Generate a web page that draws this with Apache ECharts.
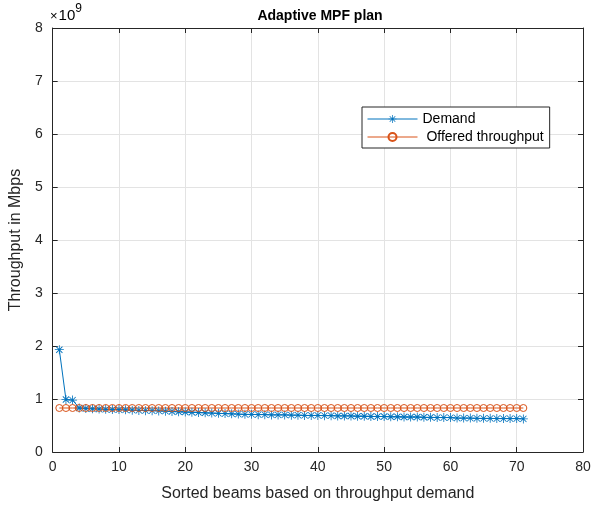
<!DOCTYPE html>
<html>
<head>
<meta charset="utf-8">
<script src="https://cdn.jsdelivr.net/npm/echarts@6/dist/echarts.min.js"></script>
<style>
  html, body { margin: 0; padding: 0; background: #fff; }
  #chart { width: 595px; height: 510px; }
</style>
</head>
<body>
<div id="chart"></div>
<script>
// beam index (sorted by demand)
const beams = []
for (let i = 1; i <= 71; i++) beams.push(i)

// throughput, in units of 1e9
const demand = [
  1.93, 0.99, 0.98, 0.83, 0.82, 0.815, 0.81, 0.805, 0.80, 0.80,
  0.795, 0.79, 0.785, 0.78, 0.78, 0.775, 0.77, 0.765, 0.76, 0.755,
  0.75, 0.745, 0.74, 0.735, 0.73, 0.725, 0.72, 0.715, 0.71, 0.71,
  0.705, 0.705, 0.70, 0.70, 0.70, 0.695, 0.695, 0.69, 0.69, 0.69,
  0.685, 0.685, 0.68, 0.68, 0.68, 0.675, 0.675, 0.67, 0.67, 0.67,
  0.665, 0.665, 0.66, 0.66, 0.66, 0.655, 0.655, 0.65, 0.65, 0.65,
  0.64, 0.64, 0.64, 0.635, 0.635, 0.635, 0.63, 0.63, 0.63, 0.63,
  0.625
]
const offered = [
  0.83, 0.83, 0.83, 0.83, 0.83, 0.83, 0.83, 0.83, 0.83, 0.83,
  0.83, 0.83, 0.83, 0.83, 0.83, 0.83, 0.83, 0.83, 0.83, 0.83,
  0.83, 0.83, 0.83, 0.83, 0.83, 0.83, 0.83, 0.83, 0.83, 0.83,
  0.83, 0.83, 0.83, 0.83, 0.83, 0.83, 0.83, 0.83, 0.83, 0.83,
  0.83, 0.83, 0.83, 0.83, 0.83, 0.83, 0.83, 0.83, 0.83, 0.83,
  0.83, 0.83, 0.83, 0.83, 0.83, 0.83, 0.83, 0.83, 0.83, 0.83,
  0.83, 0.83, 0.83, 0.83, 0.83, 0.83, 0.83, 0.83, 0.83, 0.83,
  0.83
]

const blue = '#0072BD'
const orange = '#D95319'
const font = 'Liberation Sans, Arial, sans-serif'
// asterisk marker, built from thin bars
const star = 'path://M4.55 0h0.9v10h-0.9zM0 4.55h10v0.9h-10zM1.2 1.85L1.85 1.2L8.8 8.15L8.15 8.8zM8.15 1.2L8.8 1.85L1.85 8.8L1.2 8.15z'

const chart = echarts.init(document.getElementById('chart'))

// matlab style box: ticks point into the plot
function axLine() { return { show: true, onZero: false, lineStyle: { color: '#262626', width: 1 } } }
function axTick() { return { show: true, inside: true, length: 5, lineStyle: { color: '#262626' } } }

chart.setOption({
  animation: false,
  backgroundColor: '#fff',
  title: {
    text: 'Adaptive MPF plan',
    left: 315, top: 4, textAlign: 'center',
    textStyle: { fontFamily: font, fontSize: 14, fontWeight: 'bold', color: '#000' }
  },
  grid: { left: 48, right: 12, top: 28, bottom: 58, containLabel: false },
  legend: {
    orient: 'vertical',
    left: 362, top: 107,
    backgroundColor: '#fff',
    borderColor: '#262626', borderWidth: 1, borderRadius: 0,
    padding: [5, 6, 4, 5],
    itemGap: 4, itemWidth: 50, itemHeight: 10,
    lineStyle: { width: 1 },
    textStyle: { fontFamily: font, fontSize: 14, color: '#000' },
    formatter: name => name === 'Demand' ? name : ' ' + name,
    data: ['Demand', 'Offered throughput']
  },
  xAxis: [{
    type: 'value', min: 0, max: 80, interval: 10,
    name: 'Sorted beams based on throughput demand',
    nameLocation: 'middle', nameGap: 34,
    nameTextStyle: { fontFamily: font, fontSize: 16, color: '#262626' },
    axisLine: axLine(), axisTick: axTick(),
    axisLabel: { fontFamily: font, fontSize: 14, color: '#262626', margin: 8 },
    splitLine: { show: true, lineStyle: { color: '#e3e3e3' } }
  }, {
    type: 'value', min: 0, max: 80, interval: 10, position: 'top',
    axisLine: axLine(), axisTick: axTick(), axisLabel: { show: false },
    splitLine: { show: false }
  }],
  yAxis: [{
    type: 'value', min: 0, max: 8, interval: 1,
    name: 'Throughput in Mbps',
    nameLocation: 'middle', nameGap: 28,
    nameTextStyle: { fontFamily: font, fontSize: 16, color: '#262626' },
    axisLine: axLine(), axisTick: axTick(),
    axisLabel: { fontFamily: font, fontSize: 14, color: '#262626', margin: 10 },
    splitLine: { show: true, lineStyle: { color: '#e3e3e3' } }
  }, {
    type: 'value', min: 0, max: 8, interval: 1, position: 'right',
    axisLine: axLine(), axisTick: axTick(), axisLabel: { show: false },
    splitLine: { show: false }
  }],
  graphic: [{
    type: 'text', left: 50, top: 3,
    style: {
      text: '{a|×}{c|10}{b|9}',
      rich: {
        a: { fontFamily: font, fontSize: 13, color: '#262626', padding: [4, 1, 0, 0] },
        c: { fontFamily: font, fontSize: 15, color: '#262626', padding: [4, 0, 0, 0] },
        b: { fontFamily: font, fontSize: 12, color: '#262626', padding: [0, 0, 10, 0] }
      }
    }
  }],
  series: [{
    name: 'Demand',
    type: 'line',
    data: beams.map((b, i) => [b, demand[i]]),
    symbol: star, symbolSize: 9,
    lineStyle: { color: blue, width: 1 },
    itemStyle: { color: blue }
  }, {
    name: 'Offered throughput',
    type: 'line',
    data: beams.map((b, i) => [b, offered[i]]),
    symbol: 'circle', symbolSize: 7,
    lineStyle: { color: orange, width: 1 },
    itemStyle: { color: 'rgba(0,0,0,0)', borderColor: orange, borderWidth: 1 }
  }]
})
</script>
</body>
</html>
